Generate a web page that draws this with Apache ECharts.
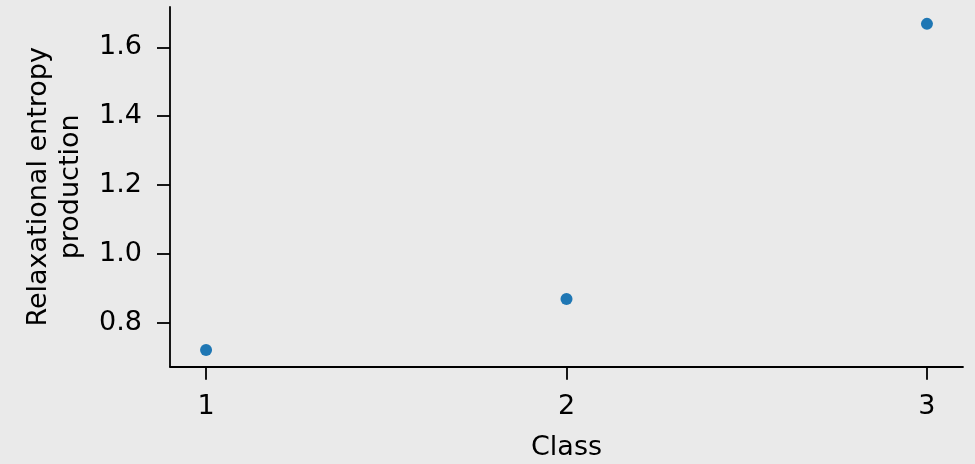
<!DOCTYPE html>
<html>
<head>
<meta charset="utf-8">
<script src="https://cdn.jsdelivr.net/npm/echarts@6/dist/echarts.min.js"></script>
<style>
  html, body { margin: 0; padding: 0; background: #eaeaea; }
  #chart { width: 975px; height: 464px; }
</style>
</head>
<body>
<div id="chart"></div>
<script>
// Relaxational entropy production per class
const classes = [1, 2, 3];
const entropyProduction = [0.721, 0.869, 1.668];
const yTicks = [0.8, 1.0, 1.2, 1.4, 1.6];

const FONT = '"DejaVu Sans", sans-serif';
const INK = '#000';

const chart = echarts.init(document.getElementById('chart'), null, { renderer: 'canvas' });

chart.setOption({
  backgroundColor: '#eaeaea',
  animation: false,
  grid: { left: 170, right: 12, top: 7, bottom: 97.3, containLabel: false, outerBoundsMode: 'none' },
  xAxis: {
    type: 'value',
    min: 0.9,
    max: 3.1,
    name: 'Class',
    nameLocation: 'middle',
    nameGap: 68,
    nameTextStyle: { fontFamily: FONT, fontSize: 27, color: INK },
    axisLine: { show: true, onZero: false, lineStyle: { color: INK, width: 1.8 } },
    axisTick: { show: true, length: 13, customValues: classes, lineStyle: { color: INK, width: 1.8 } },
    axisLabel: { customValues: classes, margin: 27, fontFamily: FONT, fontSize: 27, color: INK },
    splitLine: { show: false }
  },
  yAxis: {
    type: 'value',
    min: 0.6725,
    max: 1.717,
    name: 'Relaxational entropy\nproduction',
    nameLocation: 'middle',
    nameGap: 83,
    nameTextStyle: { fontFamily: FONT, fontSize: 27, color: INK, lineHeight: 32, align: 'center' },
    axisLine: { show: true, onZero: false, lineStyle: { color: INK, width: 1.8 } },
    axisTick: { show: true, length: 13, customValues: yTicks, lineStyle: { color: INK, width: 1.8 } },
    axisLabel: {
      customValues: yTicks,
      margin: 28,
      fontFamily: FONT, fontSize: 27, color: INK,
      formatter: v => v.toFixed(1)
    },
    splitLine: { show: false }
  },
  series: [{
    type: 'scatter',
    symbol: 'circle',
    symbolSize: 12,
    itemStyle: { color: '#1f77b4', opacity: 1 },
    data: classes.map((c, i) => [c, entropyProduction[i]])
  }]
});
</script>
</body>
</html>
